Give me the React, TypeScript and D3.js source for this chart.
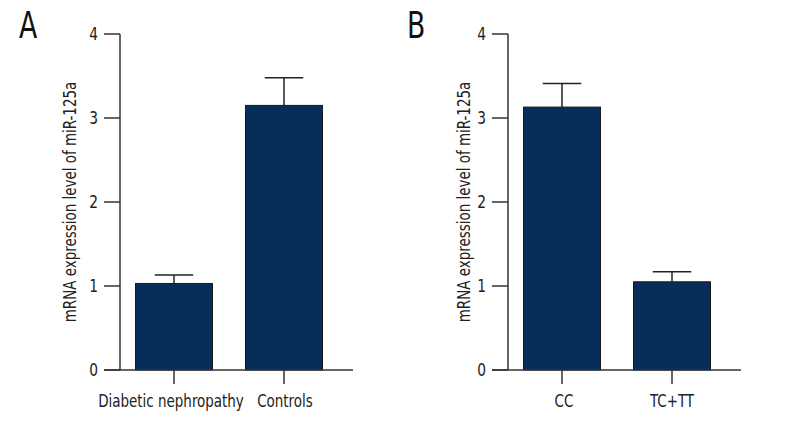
import React from "react";
import * as d3 from "d3";

const yTicks = [0, 1, 2, 3, 4];
const yTitle = "mRNA expression level of miR-125a";

const catsA = ["Diabetic nephropathy", "Controls"];
const meanA = [1.03, 3.15];
const errA = [1.13, 3.48];

const catsB = ["CC", "TC+TT"];
const meanB = [3.13, 1.05];
const errB = [3.41, 1.17];

const FONT = "'DejaVu Sans Condensed', 'Liberation Sans Narrow', sans-serif";
const AXIS = "#333";
const BAR = "#062e59";
const SQ = 0.88; // horizontal squeeze to mimic the reference's narrow typeface

type PanelProps = {
  ox: number;
  label: string;
  cats: string[];
  means: number[];
  errs: number[];
  titleX: number;
  labelShift: number[];
};

function Panel({ ox, label, cats, means, errs, titleX, labelShift }: PanelProps) {
  const y = d3.scaleLinear().domain([0, 4]).range([370, 34]);
  const x = d3.scaleBand<string>().domain(cats).range([ox - 1, ox + 219]).paddingInner(0.3).paddingOuter(0.15);
  const bw = x.bandwidth();
  return (
    <g>
      <text transform={`translate(${ox - 101},38) scale(0.78,1)`} fontFamily={FONT} fontSize={38} fill="#111">{label}</text>
      <text
        transform={`translate(${titleX},202) rotate(-90) scale(${SQ},1)`}
        textAnchor="middle"
        fontFamily={FONT}
        fontSize={17}
        fill="#222"
      >{yTitle}</text>
      {cats.map((c, i) => {
        const cx = (x(c) as number) + bw / 2;
        return (
          <g key={c}>
            <line x1={cx} x2={cx} y1={y(means[i])} y2={y(errs[i])} stroke="#222" strokeWidth={1.5} />
            <line x1={cx - bw / 4} x2={cx + bw / 4} y1={y(errs[i])} y2={y(errs[i])} stroke="#222" strokeWidth={1.5} />
            <rect x={x(c)} y={y(means[i])} width={bw} height={y(0) - y(means[i])} fill={BAR} stroke="#1a1a1a" strokeWidth={1} />
            <line x1={cx} x2={cx} y1={y(0)} y2={y(0) + 14} stroke={AXIS} strokeWidth={1.5} />
            <text
              transform={`translate(${cx + labelShift[i]},${y(0) + 37}) scale(${SQ},1)`}
              textAnchor="middle"
              fontFamily={FONT}
              fontSize={17}
              fill="#222"
            >{c}</text>
          </g>
        );
      })}
      <line x1={ox} x2={ox} y1={y(4)} y2={y(0)} stroke={AXIS} strokeWidth={1.5} />
      <line x1={ox - 16} x2={ox + 233} y1={y(0)} y2={y(0)} stroke={AXIS} strokeWidth={1.5} />
      {yTicks.map((t) => (
        <g key={t}>
          <line x1={ox - 16} x2={ox} y1={y(t)} y2={y(t)} stroke={AXIS} strokeWidth={1.5} />
          <text
            transform={`translate(${ox - 22},${y(t)}) scale(0.9,1)`}
            dy="0.36em"
            textAnchor="end"
            fontFamily={FONT}
            fontSize={17}
            fill="#222"
          >{t}</text>
        </g>
      ))}
    </g>
  );
}

export default function App() {
  return (
    <svg width={800} height={440} style={{ position: "absolute", left: 0, top: 0, background: "#fff" }}>
      <rect width={800} height={440} fill="#fff" />
      <Panel ox={120} label="A" cats={catsA} means={meanA} errs={errA} titleX={76} labelShift={[-3, 1]} />
      <Panel ox={508} label="B" cats={catsB} means={meanB} errs={errB} titleX={470} labelShift={[2, 0]} />
    </svg>
  );
}
